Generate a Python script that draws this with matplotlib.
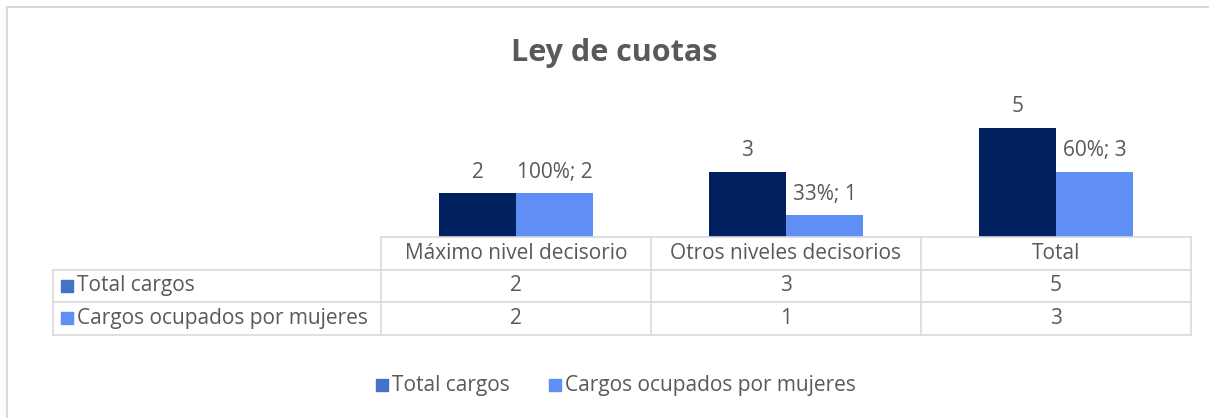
import numpy as np
import matplotlib
matplotlib.use('Agg')
import matplotlib.pyplot as plt
from matplotlib.lines import Line2D
from matplotlib.patches import Rectangle

## data
categories = ['Máximo nivel decisorio', 'Otros niveles decisorios', 'Total']
series_names = ['Total cargos', 'Cargos ocupados por mujeres']
total_cargos = [2, 3, 5]
cargos_mujeres = [2, 1, 3]
pct_mujeres = ['100%', '33%', '60%']

W, H = 1209, 418
txt = '#595959'
grid = '#D9D9D9'
bar_cols = ['#002060', '#5F8EF5']
key_cols = ['#4472C4', '#5F8EF5']
font = 'Open Sans'
fs = 15

plt.rcParams['font.family'] = [font, 'DejaVu Sans']

def fx(px):
    return px / W

def fy(py):
    return 1 - py / H

fig = plt.figure(figsize=(W / 100, H / 100), dpi=100)

# outer chart border (only top and left visible)
fig.add_artist(Line2D([fx(7), fx(7)], [fy(7), 0], color=grid, lw=1.5))
fig.add_artist(Line2D([fx(7), 1], [fy(7), fy(7)], color=grid, lw=1.5))

# plot area
x0, x1 = 381, 1191
ybase, ytop = 237, 106
ax = fig.add_axes([fx(x0), fy(ybase), fx(x1) - fx(x0), fy(ytop) - fy(ybase)])
ax.set_xlim(-0.5, len(categories) - 0.5)
ax.set_ylim(0, 6)
ax.axis('off')

x = np.arange(len(categories))
bw = 77 / 270
b1 = ax.bar(x - bw / 2, total_cargos, bw, color=bar_cols[0])
b2 = ax.bar(x + bw / 2, cargos_mujeres, bw, color=bar_cols[1])
ax.bar_label(b1, labels=[str(v) for v in total_cargos], padding=7.5,
             color=txt, fontsize=fs)
ax.bar_label(b2, labels=['{}; {}'.format(p, v) for p, v in zip(pct_mujeres, cargos_mujeres)],
             padding=7.5, color=txt, fontsize=fs)

fig.suptitle('Ley de cuotas', x=fx(614), y=fy(53), va='center',
             fontsize=22, fontweight='bold', color=txt)

# data table
col_edges = [ax.transData.transform((i - 0.5, 0))[0] for i in range(len(categories) + 1)]
row_edges = [237, 269.5, 302, 334.5]
left = 53
lw = 1.2
# header row
fig.add_artist(Line2D([fx(col_edges[0]), fx(col_edges[-1])], [fy(row_edges[0])] * 2, color=grid, lw=lw))
for r in row_edges[1:]:
    fig.add_artist(Line2D([fx(left), fx(col_edges[-1])], [fy(r)] * 2, color=grid, lw=lw))
for c in col_edges:
    fig.add_artist(Line2D([fx(c)] * 2, [fy(row_edges[0]), fy(row_edges[-1])], color=grid, lw=lw))
fig.add_artist(Line2D([fx(left)] * 2, [fy(row_edges[1]), fy(row_edges[-1])], color=grid, lw=lw))

for i, cat in enumerate(categories):
    cx = (col_edges[i] + col_edges[i + 1]) / 2
    fig.text(fx(cx), fy((row_edges[0] + row_edges[1]) / 2), cat, ha='center', va='center',
             fontsize=fs, color=txt)
rows = [total_cargos, cargos_mujeres]
for j, vals in enumerate(rows):
    cy = (row_edges[j + 1] + row_edges[j + 2]) / 2
    fig.add_artist(Rectangle((fx(61), fy(cy + 6)), fx(12), 12 / H, color=key_cols[j]))
    fig.text(fx(77), fy(cy), series_names[j], ha='left', va='center', fontsize=fs, color=txt)
    for i, v in enumerate(vals):
        cx = (col_edges[i] + col_edges[i + 1]) / 2
        fig.text(fx(cx), fy(cy), str(v), ha='center', va='center', fontsize=fs, color=txt)

# legend
leg_x = [376, 549]
for j, name in enumerate(series_names):
    fig.add_artist(Rectangle((fx(leg_x[j]), fy(391)), fx(12), 12 / H, color=key_cols[j]))
    fig.text(fx(leg_x[j] + 16), fy(385), name, ha='left', va='center', fontsize=fs, color=txt)

fig.savefig('out.png', dpi=100, facecolor='white')
